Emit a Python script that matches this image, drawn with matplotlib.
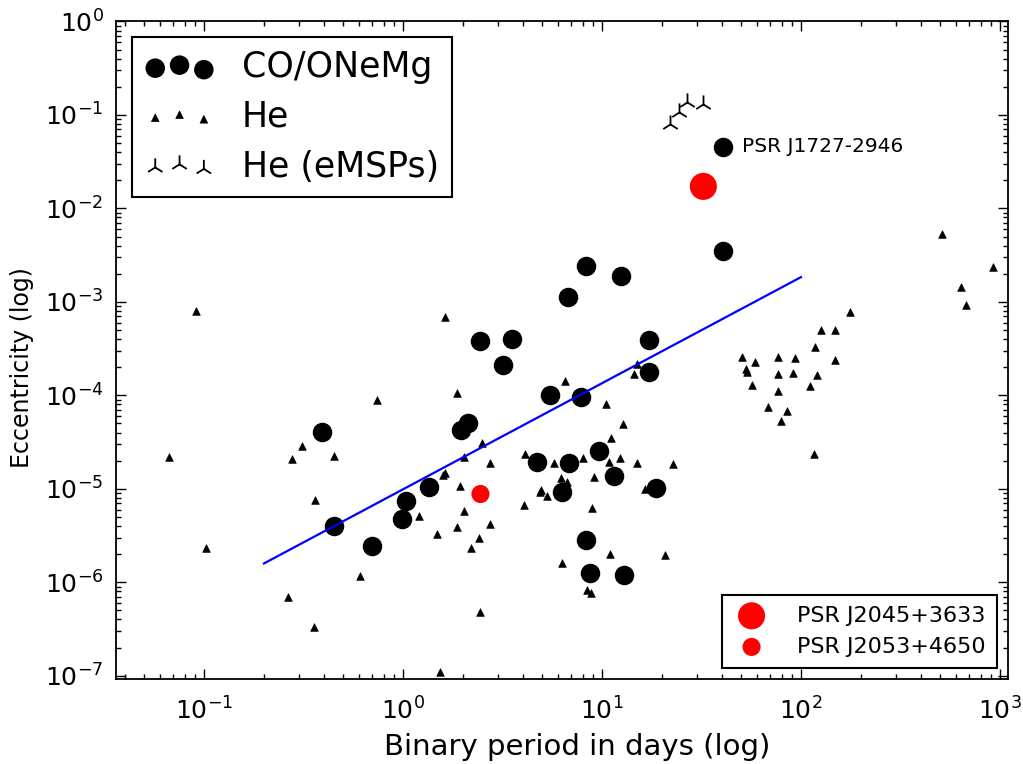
import numpy as np
import matplotlib
matplotlib.use("Agg")
import matplotlib.pyplot as plt
from matplotlib.ticker import NullFormatter

# CO/ONeMg white dwarf companions (period in days, eccentricity)
co_pb = [0.392, 0.452, 0.698, 1.03, 0.99, 1.355, 1.95, 2.12, 2.45, 3.52, 3.19,
         5.48, 7.82, 4.73, 6.85, 9.66, 11.53, 6.32, 18.75, 8.31, 8.70, 12.85,
         8.34, 12.46, 6.75, 17.2, 17.2, 40.4, 40.4]
co_ecc = [4.03e-5, 3.97e-6, 2.46e-6, 7.35e-6, 4.71e-6, 1.04e-5, 4.28e-5, 5.04e-5,
          3.78e-4, 4.0e-4, 2.11e-4, 1.01e-4, 9.66e-5, 1.94e-5, 1.90e-5, 2.55e-5,
          1.38e-5, 9.27e-6, 1.01e-5, 2.83e-6, 1.26e-6, 1.21e-6, 2.45e-3, 1.90e-3,
          1.14e-3, 3.91e-4, 1.77e-4, 3.46e-3, 4.54e-2]

# He white dwarf companions
he_pb = [0.0665, 0.102, 0.0908, 0.738, 0.312, 0.278, 0.450, 0.361, 0.606, 0.263,
         0.356, 1.20, 1.63, 1.87, 6.52, 15.0, 14.4, 10.5, 12.7, 11.1, 2.49, 2.03,
         2.72, 1.63, 1.59, 4.09, 5.74, 8.05, 10.9, 12.3, 15.0, 22.7, 1.93, 6.21,
         6.65, 4.95, 4.88, 5.27, 9.15, 16.4, 2.02, 4.04, 8.94, 1.48, 1.86, 2.73,
         2.40, 2.20, 6.27, 11.0, 20.8, 8.44, 8.77, 2.45, 1.53,
         513, 925, 637, 673, 176, 126, 148, 118, 149, 50.7, 58.7, 76.6, 93.3,
         52.7, 53.7, 76.3, 91.2, 120, 111, 56.5, 76.6, 68.0, 85.3, 79.6, 116]
he_ecc = [2.20e-5, 2.30e-6, 7.98e-4, 8.88e-5, 2.86e-5, 2.06e-5, 2.27e-5, 7.66e-6,
          1.17e-6, 6.94e-7, 3.31e-7, 5.07e-6, 6.84e-4, 1.07e-4, 1.41e-4, 2.18e-4,
          1.71e-4, 8.05e-5, 4.96e-5, 3.51e-5, 3.10e-5, 2.20e-5, 1.90e-5, 1.48e-5,
          1.42e-5, 2.37e-5, 1.90e-5, 2.12e-5, 1.96e-5, 2.14e-5, 1.91e-5, 1.85e-5,
          1.08e-5, 1.29e-5, 1.19e-5, 9.63e-6, 9.17e-6, 8.39e-6, 1.33e-5, 9.88e-6,
          5.84e-6, 6.72e-6, 6.29e-6, 3.29e-6, 3.94e-6, 4.21e-6, 2.98e-6, 2.30e-6,
          1.61e-6, 1.99e-6, 1.94e-6, 8.31e-7, 7.71e-7, 4.86e-7, 1.11e-7,
          5.30e-3, 2.35e-3, 1.46e-3, 9.2e-4, 7.87e-4, 4.96e-4, 4.96e-4, 3.29e-4,
          2.41e-4, 2.57e-4, 2.27e-4, 2.55e-4, 2.53e-4, 1.93e-4, 1.76e-4, 1.69e-4,
          1.75e-4, 1.67e-4, 1.27e-4, 1.28e-4, 1.10e-4, 7.42e-5, 6.84e-5, 5.29e-5,
          2.33e-5]

# eccentric MSPs with He companions
emsp_pb = [22.0, 24.4, 26.8, 32.1]
emsp_ecc = [0.0801, 0.1085, 0.139, 0.131]

# the two new pulsars
j2045_pb, j2045_ecc = 32.3, 0.0172
j2053_pb, j2053_ecc = 2.45, 8.8e-6

# fitted relation (end points)
fit_pb = [0.2, 100.0]
fit_ecc = [1.59e-6, 1.84e-3]

plt.rcParams['xtick.direction'] = 'in'
plt.rcParams['ytick.direction'] = 'in'
plt.rcParams['xtick.top'] = True
plt.rcParams['ytick.right'] = True

fig = plt.figure(figsize=(10.23, 7.64), dpi=100)
ax = fig.add_axes([0.1134, 0.1113, 0.8719, 0.8606])

h1 = ax.scatter(co_pb, co_ecc, s=170, c='k', marker='o', edgecolors='k', label='CO/ONeMg')
h2 = ax.scatter(he_pb, he_ecc, s=30, c='k', marker='^', edgecolors='k', linewidths=0.5, label='He')
h3 = ax.scatter(emsp_pb, emsp_ecc, s=170, c='k', marker='2', linewidths=1.3, label='He (eMSPs)')
ax.plot(fit_pb, fit_ecc, color='#0000ff', lw=1.6)
r1 = ax.scatter([j2045_pb], [j2045_ecc], s=380, c='#ff0000', edgecolors='none', label='PSR J2045+3633')
r2 = ax.scatter([j2053_pb], [j2053_ecc], s=170, c='#ff0000', edgecolors='none', label='PSR J2053+4650')

ax.annotate('PSR J1727-2946', xy=(co_pb[-1], co_ecc[-1]), xytext=(14, 0),
            textcoords='offset points', va='center', ha='left', fontsize=14.5)

ax.set_xscale('log')
ax.set_yscale('log')
ax.set_xlim(0.0361, 1097)
ax.set_ylim(9.24e-8, 1.0)
ax.xaxis.set_minor_formatter(NullFormatter())
ax.yaxis.set_minor_formatter(NullFormatter())

ax.set_xlabel('Binary period in days (log)', fontsize=21)
ax.set_ylabel('Eccentricity (log)', fontsize=17)
ax.xaxis.set_label_coords(0.517, -0.082)
ax.yaxis.set_label_coords(-0.092, 0.473)
ax.tick_params(which='major', length=7, width=1, labelsize=18)
ax.tick_params(axis='x', which='major', pad=13)
ax.tick_params(axis='y', which='major', pad=9)
ax.tick_params(which='minor', length=3.5, width=1, labelbottom=False, labelleft=False)
for sp in ax.spines.values():
    sp.set_linewidth(1.3)

leg1 = ax.legend(handles=[h1, h2, h3], loc='upper left', scatterpoints=3,
                 fontsize=25, fancybox=False, framealpha=1, edgecolor='k',
                 borderaxespad=0.45, labelspacing=0.45, handlelength=2.0,
                 handletextpad=0.8, borderpad=0.38)
leg1.get_frame().set_linewidth(1.5)
ax.add_artist(leg1)
leg2 = ax.legend(handles=[r1, r2], loc='lower right', scatterpoints=1,
                 fontsize=16, fancybox=False, framealpha=1, edgecolor='k',
                 borderaxespad=0.5, handlelength=1.7, handletextpad=1.2,
                 borderpad=0.5)
leg2.get_frame().set_linewidth(1.5)

fig.savefig('out.png', dpi=100)
